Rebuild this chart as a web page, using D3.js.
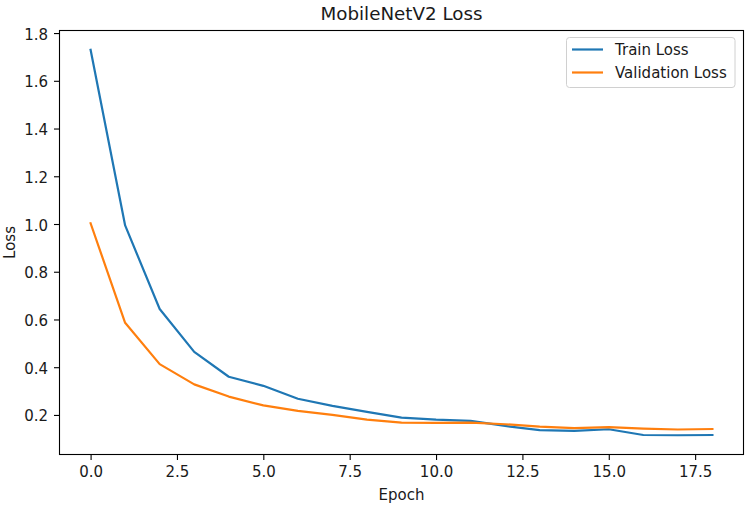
<!DOCTYPE html>
<html>
<head>
<meta charset="utf-8">
<script src="https://cdn.jsdelivr.net/npm/d3@7"></script>
<style>
  html, body { margin: 0; padding: 0; background: #fff; }
  svg { display: block; font-family: "DejaVu Sans", sans-serif; }
</style>
</head>
<body>
<svg id="chart" width="750" height="507"></svg>
<script>
const epochs = [0,1,2,3,4,5,6,7,8,9,10,11,12,13,14,15,16,17,18];
const trainLoss = [1.730,0.994,0.644,0.464,0.360,0.322,0.268,0.238,0.213,0.189,0.180,0.175,0.154,0.136,0.133,0.140,0.116,0.115,0.116];
const valLoss = [1.003,0.586,0.413,0.328,0.277,0.240,0.217,0.200,0.180,0.168,0.167,0.168,0.161,0.151,0.145,0.149,0.143,0.139,0.141];
const xTicks = [0,2.5,5,7.5,10,12.5,15,17.5];
const yTicks = [0.2,0.4,0.6,0.8,1.0,1.2,1.4,1.6,1.8];
const seriesNames = ["Train Loss","Validation Loss"];
const seriesColors = ["#1f77b4","#ff7f0e"];

const svg = d3.select("#chart");
const L = 59.5, R = 743.5, T = 30.5, B = 454.5;
const fs = "15px";

const allVals = trainLoss.concat(valLoss);
const ymin = d3.min(allVals), ymax = d3.max(allVals);
const ypad = (ymax - ymin) * 0.05;
const x = d3.scaleLinear().domain([-0.9, 18.9]).range([L, R]);
const y = d3.scaleLinear().domain([ymin - ypad, ymax + ypad]).range([B, T]);

const txtColor = "#1a1a1a";

// x axis
const xa = svg.append("g").attr("transform", `translate(0,${B})`)
  .call(d3.axisBottom(x).tickValues(xTicks).tickFormat(d3.format(".1f")).tickSizeOuter(0).tickSize(5.5).tickPadding(6.5));
xa.select(".domain").remove();
xa.selectAll("line").attr("stroke", "#000").attr("stroke-width", 1.1);
xa.selectAll("text").attr("font-size", fs).attr("fill", txtColor).attr("font-family", "DejaVu Sans");

// y axis
const ya = svg.append("g").attr("transform", `translate(${L},0)`)
  .call(d3.axisLeft(y).tickValues(yTicks).tickFormat(d3.format(".1f")).tickSizeOuter(0).tickSize(5.5).tickPadding(6));
ya.select(".domain").remove();
ya.selectAll("line").attr("stroke", "#000").attr("stroke-width", 1.1);
ya.selectAll("text").attr("font-size", fs).attr("fill", txtColor).attr("font-family", "DejaVu Sans").attr("dy", "0.4em");

// lines
svg.append("clipPath").attr("id", "clip").append("rect")
  .attr("x", L).attr("y", T).attr("width", R - L).attr("height", B - T);
const lineGen = d3.line().x((d, i) => x(epochs[i])).y(d => y(d));
[trainLoss, valLoss].forEach((s, k) => {
  svg.append("path").datum(s)
    .attr("d", lineGen)
    .attr("fill", "none")
    .attr("stroke", seriesColors[k])
    .attr("stroke-width", 2.2)
    .attr("stroke-linejoin", "round")
    .attr("stroke-linecap", "square")
    .attr("clip-path", "url(#clip)");
});

// spines
svg.append("rect").attr("x", L).attr("y", T).attr("width", R - L).attr("height", B - T)
  .attr("fill", "none").attr("stroke", "#000").attr("stroke-width", 1.1);

// title & labels
svg.append("text").attr("x", (L + R) / 2).attr("y", 20).attr("text-anchor", "middle")
  .attr("font-size", "18.3px").attr("fill", txtColor).text("MobileNetV2 Loss");
svg.append("text").attr("x", (L + R) / 2).attr("y", 500).attr("text-anchor", "middle")
  .attr("font-size", fs).attr("fill", txtColor).text("Epoch");
svg.append("text").attr("transform", `translate(15,${(T + B) / 2}) rotate(-90)`).attr("text-anchor", "middle")
  .attr("font-size", fs).attr("fill", txtColor).text("Loss");

// legend
const lg = svg.append("g");
lg.append("rect").attr("x", 566.5).attr("y", 37.5).attr("width", 168.5).attr("height", 50)
  .attr("rx", 3).attr("fill", "#fff").attr("fill-opacity", 0.8).attr("stroke", "#d0d0d0").attr("stroke-width", 1);
seriesNames.forEach((n, k) => {
  const yy = 49.5 + k * 23;
  lg.append("line").attr("x1", 572).attr("x2", 603).attr("y1", yy).attr("y2", yy)
    .attr("stroke", seriesColors[k]).attr("stroke-width", 2.2);
  lg.append("text").attr("x", 615).attr("y", yy + 5.5).attr("font-size", fs).attr("fill", txtColor).text(n);
});
</script>
</body>
</html>
